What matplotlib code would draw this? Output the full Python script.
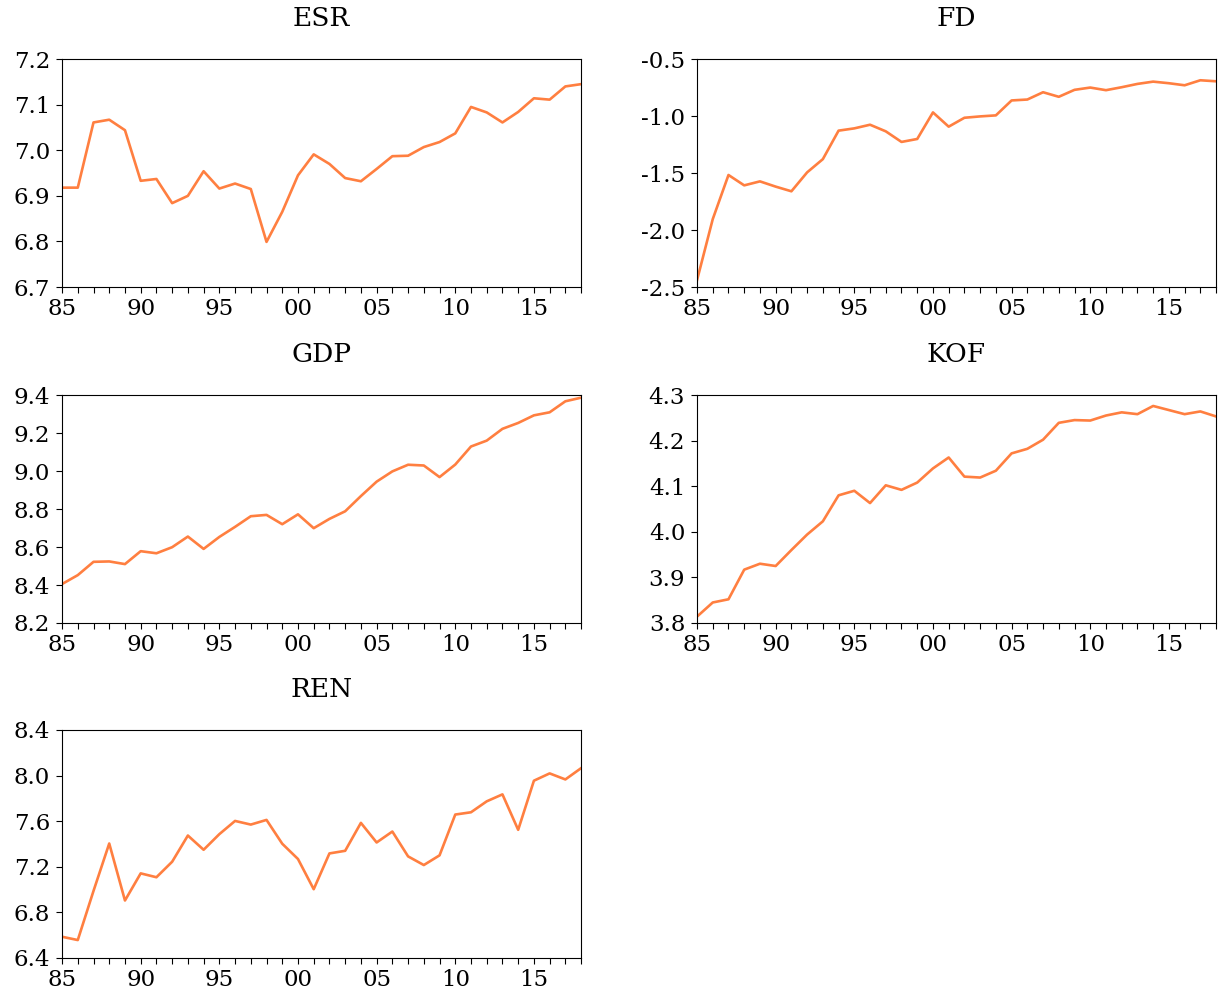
import matplotlib
matplotlib.use("Agg")
import matplotlib.pyplot as plt
import matplotlib.ticker as ticker

plt.rcParams["font.family"] = ["DejaVu Serif"]

years = list(range(1985, 2019))

esr = [6.918, 6.918, 7.061, 7.067, 7.044, 6.933, 6.937, 6.884, 6.900, 6.954,
       6.916, 6.927, 6.915, 6.799, 6.865, 6.945, 6.991, 6.970, 6.939, 6.932,
       6.959, 6.987, 6.988, 7.007, 7.018, 7.037, 7.095, 7.083, 7.061, 7.084,
       7.114, 7.111, 7.140, 7.145]

fd = [-2.44, -1.904, -1.517, -1.608, -1.573, -1.619, -1.660, -1.494, -1.378, -1.128,
      -1.108, -1.076, -1.134, -1.227, -1.201, -0.968, -1.093, -1.015, -1.003, -0.994,
      -0.863, -0.855, -0.791, -0.831, -0.770, -0.750, -0.773, -0.747, -0.718, -0.698,
      -0.712, -0.730, -0.686, -0.695]

gdp = [8.405, 8.452, 8.522, 8.524, 8.510, 8.578, 8.567, 8.599, 8.655, 8.590,
       8.653, 8.706, 8.762, 8.769, 8.720, 8.772, 8.699, 8.748, 8.788, 8.868,
       8.944, 8.998, 9.033, 9.029, 8.968, 9.034, 9.129, 9.160, 9.222, 9.253,
       9.293, 9.309, 9.367, 9.386]

kof = [3.814, 3.845, 3.852, 3.917, 3.930, 3.925, 3.960, 3.994, 4.023, 4.080,
       4.090, 4.063, 4.102, 4.092, 4.108, 4.139, 4.163, 4.121, 4.119, 4.134,
       4.172, 4.182, 4.202, 4.239, 4.245, 4.244, 4.255, 4.262, 4.258, 4.276,
       4.267, 4.258, 4.264, 4.253]

ren = [6.586, 6.557, 6.988, 7.404, 6.904, 7.142, 7.108, 7.244, 7.474, 7.349,
       7.486, 7.602, 7.570, 7.611, 7.402, 7.268, 7.003, 7.317, 7.340, 7.585,
       7.413, 7.509, 7.291, 7.215, 7.300, 7.658, 7.678, 7.774, 7.835, 7.524,
       7.955, 8.019, 7.966, 8.065]

titles = ["ESR", "FD", "GDP", "KOF", "REN"]
series = [esr, fd, gdp, kof, ren]
ylims = [(6.7, 7.2), (-2.5, -0.5), (8.2, 9.4), (3.8, 4.3), (6.4, 8.4)]
ysteps = [0.1, 0.5, 0.2, 0.1, 0.4]

# axes boxes in figure fractions (left, bottom, width, height)
lefts = [0.0509, 0.5718]
bottoms = [0.7118, 0.3745, 0.0382]
w, h = 0.4258, 0.2289

fig = plt.figure(figsize=(12.19, 9.96), dpi=100)

for i, (name, vals) in enumerate(zip(titles, series)):
    ax = fig.add_axes([lefts[i % 2], bottoms[i // 2], w, h])
    ax.plot(years, vals, color="#FF7F40", lw=1.9)
    ax.set_xlim(1985, 2018)
    ax.set_ylim(*ylims[i])
    ax.set_title(name, fontsize=19, pad=24)
    ax.xaxis.set_major_locator(ticker.MultipleLocator(5))
    ax.xaxis.set_minor_locator(ticker.MultipleLocator(1))
    ax.xaxis.set_major_formatter(ticker.FuncFormatter(lambda v, p: "%02d" % (int(round(v)) % 100)))
    ax.yaxis.set_major_locator(ticker.MultipleLocator(ysteps[i]))
    ax.yaxis.set_major_formatter(ticker.FormatStrFormatter("%.1f"))
    ax.tick_params(axis="both", which="both", direction="out", length=4.5, width=0.8,
                   labelsize=16.5, pad=3.5)
    ax.tick_params(axis="y", pad=4)
    for s in ax.spines.values():
        s.set_linewidth(0.8)

plt.savefig("out.png", dpi=100)
